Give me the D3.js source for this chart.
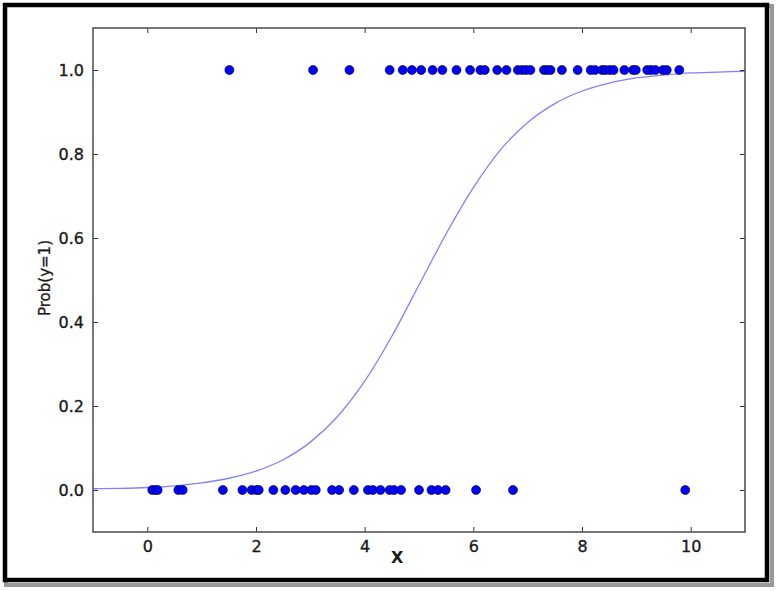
<!DOCTYPE html>
<meta charset="utf-8">
<script src="https://d3js.org/d3.v7.min.js"></script>
<style>
  body { margin: 0; background: #fff; }
  text { font-family: "DejaVu Sans", sans-serif; fill: #1a1a1a; }
</style>
<body>
<div id="my_dataviz"></div>
<script>

// observed points, y = 1
var onesX = [1.51, 3.05, 3.72, 4.46, 4.70, 4.87, 5.04, 5.25, 5.43, 5.69, 5.94, 6.13, 6.21,
  6.44, 6.61, 6.82, 6.90, 6.97, 7.05, 7.30, 7.36, 7.42, 7.63, 7.92, 8.16, 8.24, 8.37,
  8.43, 8.51, 8.58, 8.78, 8.94, 8.99, 9.20, 9.27, 9.35, 9.49, 9.56, 9.79];

// observed points, y = 0
var zerosX = [0.09, 0.15, 0.19, 0.57, 0.65, 1.39, 1.75, 1.92, 2.01, 2.05, 2.32, 2.54,
  2.73, 2.88, 3.02, 3.10, 3.40, 3.53, 3.80, 4.06, 4.15, 4.29, 4.46, 4.54, 4.67, 5.00,
  5.23, 5.35, 5.49, 6.05, 6.73, 9.90];

// fitted curve
var curveX = [-1, -0.5, 0, 0.5, 1, 1.5, 2, 2.5, 3, 3.5, 4, 4.5, 5, 5.5, 6, 6.5, 7, 7.5, 8, 8.5, 9, 9.5, 10, 10.5, 11];
var curveP = [0.003, 0.004, 0.006, 0.010, 0.017, 0.028, 0.045, 0.072, 0.114, 0.175, 0.259, 0.366,
  0.488, 0.610, 0.720, 0.810, 0.875, 0.920, 0.950, 0.969, 0.981, 0.988, 0.993, 0.995, 0.997];

var xTicks = [0, 2, 4, 6, 8, 10];
var yTicks = [0.0, 0.2, 0.4, 0.6, 0.8, 1.0];

var W = 779, H = 591;
var margin = {top: 28, right: 34, bottom: 59, left: 93},
    width = W - margin.left - margin.right,
    height = H - margin.top - margin.bottom;

var root = d3.select("#my_dataviz")
  .append("svg")
    .attr("width", W)
    .attr("height", H);

// outer frame with shadow
root.append("rect")
  .attr("x", 6).attr("y", 6).attr("width", 766).attr("height", 579)
  .attr("fill", "none").attr("stroke", "#999").attr("stroke-width", 4);
root.append("rect")
  .attr("x", 5).attr("y", 5).attr("width", 762).attr("height", 575)
  .attr("fill", "#fff").attr("stroke", "#000").attr("stroke-width", 4.5);

var svg = root.append("g")
  .attr("transform", "translate(" + margin.left + "," + margin.top + ")");

var x = d3.scaleLinear().domain([-1, 11]).range([0, width]);
var y = d3.scaleLinear().domain([-0.1, 1.1]).range([height, 0]);

// curve
var line = d3.line()
  .x(function(d, i) { return x(curveX[i]); })
  .y(function(d) { return y(d); })
  .curve(d3.curveMonotoneX);
svg.append("path")
  .datum(curveP)
  .attr("d", line)
  .attr("fill", "none")
  .attr("stroke", "#8080ff")
  .attr("stroke-width", 1.3);

// dots
function dots(xs, val) {
  svg.append("g")
    .selectAll("circle")
    .data(xs)
    .enter()
    .append("circle")
      .attr("cx", function(d) { return x(d); })
      .attr("cy", y(val))
      .attr("r", 4.5)
      .style("fill", "#0000ff")
      .style("stroke", "#000")
      .style("stroke-width", 0.6);
}
dots(zerosX, 0);
dots(onesX, 1);

// axes: ticks inward on all four sides
function style(g) {
  g.select(".domain").remove();
  g.selectAll("line").attr("stroke", "#333").attr("stroke-width", 1);
  g.selectAll("text").style("font-size", "16px").attr("fill", "#1a1a1a")
    .attr("stroke", "#1a1a1a").attr("stroke-width", 0.35);
}
svg.append("g")
  .attr("transform", "translate(0," + height + ")")
  .call(d3.axisBottom(x).tickValues(xTicks).tickSizeInner(-5).tickSizeOuter(0).tickPadding(9).tickFormat(d3.format("d")))
  .call(style);
svg.append("g")
  .call(d3.axisTop(x).tickValues(xTicks).tickSizeInner(-5).tickSizeOuter(0).tickFormat(""))
  .call(style);
svg.append("g")
  .call(d3.axisLeft(y).tickValues(yTicks).tickSizeInner(-5).tickSizeOuter(0).tickPadding(9).tickFormat(d3.format(".1f")))
  .call(style);
svg.append("g")
  .attr("transform", "translate(" + width + ",0)")
  .call(d3.axisRight(y).tickValues(yTicks).tickSizeInner(-5).tickSizeOuter(0).tickFormat(""))
  .call(style);

svg.append("rect")
  .attr("width", width).attr("height", height)
  .attr("fill", "none").attr("stroke", "#555").attr("stroke-width", 1.6);

// axis labels
svg.append("text")
  .attr("x", x(4.6))
  .attr("y", height + 31)
  .attr("text-anchor", "middle")
  .style("font-size", "16px")
  .style("font-weight", "bold")
  .text("X");

svg.append("text")
  .attr("transform", "translate(" + (-43) + "," + (height / 2 - 2) + ") rotate(-90)")
  .attr("text-anchor", "middle")
  .style("font-size", "15px")
  .attr("stroke", "#1a1a1a").attr("stroke-width", 0.3)
  .text("Prob(y=1)");

</script>
</body>
